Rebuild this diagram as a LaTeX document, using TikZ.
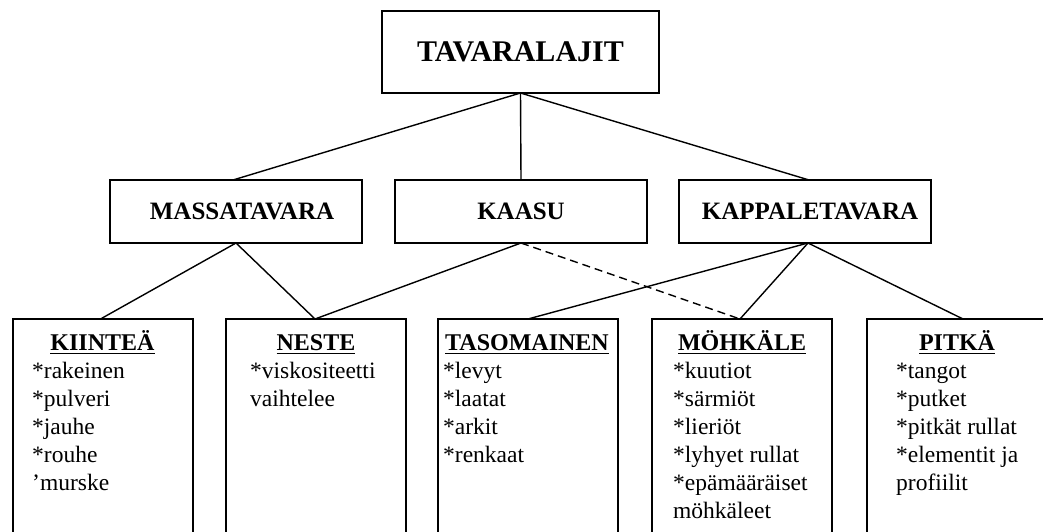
\documentclass[tikz,border=0pt]{standalone}
\usepackage{fontspec}
\setmainfont{Liberation Serif}
\begin{document}
\begin{tikzpicture}[x=1pt,y=-1pt,
  box/.style={draw, line width=1.8pt, inner sep=0pt, outer sep=0pt},
  topbox/.style={box, minimum width=277pt, minimum height=82pt,
    font=\fontsize{30}{36}\selectfont\bfseries},
  midbox/.style={box, minimum width=252pt, minimum height=63pt,
    font=\fontsize{25}{30}\selectfont\bfseries},
  catbox/.style={box, minimum width=180pt, minimum height=240pt, anchor=north west},
  head/.style={inner sep=0pt, outer sep=0pt, anchor=base,
    font=\fontsize{24}{28}\selectfont\bfseries},
  entry/.style={inner sep=0pt, anchor=base west,
    font=\fontsize{23.5}{28}\selectfont},
  uline/.style={line width=1.8pt},
  link/.style={line width=1.4pt},
  dashlink/.style={link, dash pattern=on 8pt off 5pt}]

\clip (0,0) rectangle (1043,532);
\fill[white] (0,0) rectangle (1043,532);

% top level
\node[topbox] (top) at (520.5,52) {TAVARALAJIT};

% second level (labels sit slightly right of centre)
\node[midbox] (mass) at (236,211.5) {\hspace*{12pt}MASSATAVARA};
\node[midbox] (kaasu) at (521,211.5) {KAASU};
\node[midbox] (kapp) at (805,211.5) {\hspace*{10pt}KAPPALETAVARA};

% third level boxes
\node[catbox] (kiin) at (13,319) {};
\node[catbox] (nest) at (226,319) {};
\node[catbox] (taso) at (438,319) {};
\node[catbox] (mohk) at (652,319) {};
\node[catbox] (pitk) at (867,319) {};

% headings
\node[head] (kiinh) at (102.5,350) {KIINTEÄ};
\node[head] (nesth) at (316,350) {NESTE};
\node[head] (tasoh) at (527,350) {TASOMAINEN};
\node[head] (mohkh) at (742,350) {MÖHKÄLE};
\node[head] (pitkh) at (957,350) {PITKÄ};
\foreach \h in {kiinh,nesth,tasoh,mohkh,pitkh}
  \draw[uline] ([yshift=-3.5pt]\h.base west) -- ([yshift=-3.5pt]\h.base east);

% entries
\foreach \t [count=\i from 0] in {*rakeinen,*pulveri,*jauhe,*rouhe,’murske}
  \node[entry] (kiin-\i) at (32,{378+28*\i}) {\t};
\foreach \t [count=\i from 0] in {*viskositeetti,vaihtelee}
  \node[entry] (nest-\i) at (250,{378+28*\i}) {\t};
\foreach \t [count=\i from 0] in {*levyt,*laatat,*arkit,*renkaat}
  \node[entry] (taso-\i) at (443,{378+28*\i}) {\t};
\foreach \t [count=\i from 0] in {*kuutiot,*särmiöt,*lieriöt,*lyhyet rullat,*epämääräiset,möhkäleet}
  \node[entry] (mohk-\i) at (673,{378+28*\i}) {\t};
\foreach \t [count=\i from 0] in {*tangot,*putket,*pitkät rullat,*elementit ja,profiilit}
  \node[entry] (pitk-\i) at (896,{378+28*\i}) {\t};

% connectors
\draw[link] (top.south) -- ([xshift=-3pt]mass.north);
\draw[link] (top.south) -- (kaasu.north);
\draw[link] (top.south) -- ([xshift=4pt]kapp.north);

\draw[link] (mass.south) -- ([xshift=-2.5pt]kiin.north);
\draw[link] (mass.south) -- ([xshift=-1pt]nest.north);
\draw[link] (kaasu.south) -- ([xshift=-1pt]nest.north);
\draw[dashlink] (kaasu.south) -- ([xshift=-2pt]mohk.north);
\draw[link] ([xshift=3pt]kapp.south) -- (taso.north);
\draw[link] ([xshift=3pt]kapp.south) -- ([xshift=-2pt]mohk.north);
\draw[link] ([xshift=3pt]kapp.south) -- ([xshift=6pt]pitk.north);
\end{tikzpicture}
\end{document}
